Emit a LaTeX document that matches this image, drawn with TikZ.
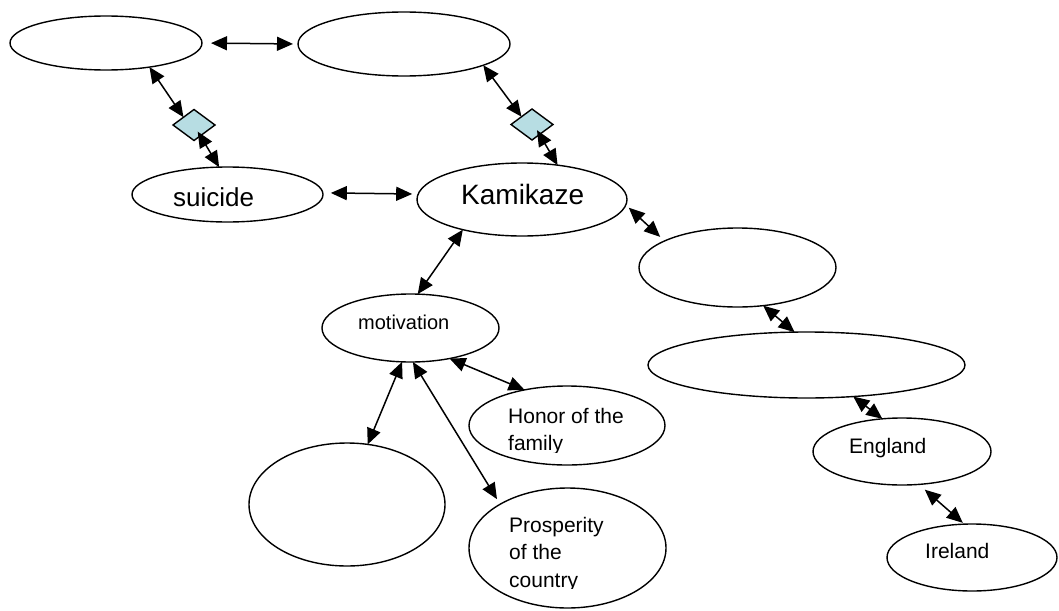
\documentclass[tikz,border=0pt]{standalone}
\usepackage{fontspec}
\setmainfont{Liberation Sans}
\usetikzlibrary{shapes.geometric,arrows.meta}
\definecolor{dfill}{RGB}{183,221,227}
\begin{document}
\begin{tikzpicture}[x=1pt,y=-1pt,
  oval/.style={draw, ellipse, line width=1.4pt, inner sep=0pt, outer sep=0pt},
  dia/.style={draw, diamond, fill=dfill, line width=1.4pt, inner sep=0pt, outer sep=0pt, minimum width=42pt, minimum height=31pt},
  conn/.style={line width=1.5pt, {Triangle[length=16pt,width=14pt]}-{Triangle[length=16pt,width=14pt]}},
  lbl/.style={anchor=base west, inner sep=0pt, font=\fontsize{21}{25}\selectfont},
]
\useasboundingbox (0,0) rectangle (1059,610);

% ellipses
\node[oval, minimum width=192pt, minimum height=54pt] (tl) at (106,43) {};
\node[oval, minimum width=212pt, minimum height=64pt] (tm) at (404,44) {};
\node[dia] (d1) at (194,125) {};
\node[dia] (d2) at (532,124.5) {};
\node[oval, minimum width=191pt, minimum height=55pt] (su) at (227.5,194.5) {};
\node[oval, minimum width=210pt, minimum height=73pt] (ka) at (522,199.5) {};
\node[oval, minimum width=197pt, minimum height=79pt] (r1) at (737.5,267.5) {};
\node[oval, minimum width=317pt, minimum height=66pt] (r2) at (806.5,365) {};
\node[oval, minimum width=178pt, minimum height=67pt] (en) at (902,451.5) {};
\node[oval, minimum width=170pt, minimum height=67pt] (ir) at (972,557.5) {};
\node[oval, minimum width=177pt, minimum height=68pt] (mo) at (410.5,328) {};
\node[oval, minimum width=196pt, minimum height=79pt] (ho) at (567,425.5) {};
\node[oval, minimum width=196pt, minimum height=123pt] (bl) at (347,504.5) {};
\node[oval, minimum width=197pt, minimum height=120pt] (pr) at (567.5,548) {};

% texts
\node[lbl, font=\fontsize{26}{30}\selectfont] (tsu) at (173,206) {suicide};
\node[lbl, font=\fontsize{28}{32}\selectfont] (tka) at (461,204) {Kamikaze};
\node[lbl, font=\fontsize{20}{24}\selectfont] (tmo) at (358,329) {motivation};
\node[lbl] (tho1) at (508,423) {Honor of the};
\begin{scope}
  \clip (500,430) rectangle (640,452);
  \node[lbl] (tho2) at (508,450) {family};
\end{scope}
\node[lbl] (tpr1) at (509,532) {Prosperity};
\node[lbl] (tpr2) at (509,559) {of the};
\begin{scope}
  \clip (500,565) rectangle (640,588.5);
  \node[lbl] (tpr3) at (509,587) {country};
\end{scope}
\node[lbl] (ten) at (849,453) {England};
\node[lbl] (tir) at (925,558) {Ireland};

% connectors
\draw[conn, shorten <=9pt, shorten >=5pt] (tl.0) -- (tm.180);
\draw[conn] (tl.-29) -- (d1.north west);
\draw[conn, shorten <=-5pt] (d1.-60) -- (su.107);
\draw[conn] (tm.-15) -- (d2.north west);
\draw[conn, shorten <=-5pt] (d2.-53) -- (ka.44);
\draw[conn, shorten <=8pt, shorten >=6pt] (su.1) -- (ka.177);
\draw[conn, shorten <=4pt, shorten >=6pt] (ka.-3) -- (r1.160);
\draw[conn] (r1.-56) -- (r2.110);
\draw[conn] (r2.-34) -- (en.121);
\draw[conn, shorten <=8pt, shorten >=2pt] (en.-63) -- (ir.103);
\draw[conn] (ka.-153) -- (mo.78);
\draw[conn] (mo.-104) -- (bl.71);
\draw[conn, shorten >=6pt] (mo.-86) -- (pr.147);
\draw[conn] (mo.-38) -- (ho.140);
\end{tikzpicture}
\end{document}
